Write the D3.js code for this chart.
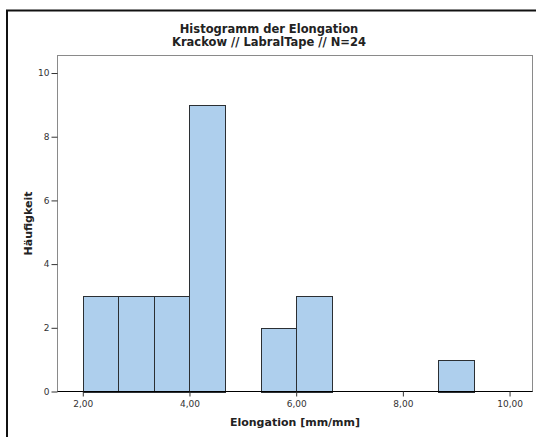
<!DOCTYPE html>
<html>
<head>
<meta charset="utf-8">
<script src="https://cdn.jsdelivr.net/npm/d3@7"></script>
<style>
  body { margin: 0; background: #fff; }
  svg { display: block; }
  text { font-family: "DejaVu Sans", sans-serif; fill: #222; }
  .tick text { font-size: 9px; fill: #333; }
</style>
</head>
<body>
<div id="chart"></div>
<script>
'use strict';

// Histogramm der Elongation (SPSS export)
var titleLines = ['Histogramm der Elongation', 'Krackow // LabralTape // N=24'];
var xLabel = 'Elongation [mm/mm]';
var yLabel = 'Häufigkeit';

var binLower = [2.000, 2.667, 3.333, 4.000, 4.667, 5.333, 6.000, 6.667, 7.333, 8.000, 8.667];
var binWidth = 0.667;
var counts   = [3, 3, 3, 9, 0, 2, 3, 0, 0, 0, 1];

var xTicks = [2, 4, 6, 8, 10];
var yTicks = [0, 2, 4, 6, 8, 10];

var W = 536, H = 437;
var plot = { left: 57.5, top: 55.5, right: 532.5, bottom: 391.5 };

var svg = d3.select('#chart').append('svg')
  .attr('width', W)
  .attr('height', H);

// outer frame (cut at right/bottom like the export)
svg.append('rect')
  .attr('x', 7).attr('y', 10.5)
  .attr('width', 540).attr('height', 450)
  .attr('fill', '#fff')
  .attr('stroke', '#111')
  .attr('stroke-width', 2);

var x = d3.scaleLinear().domain([1.526, 10.43]).range([plot.left, plot.right]);
var y = d3.scaleLinear().domain([0, 10.55]).range([plot.bottom, plot.top]);

// plot box
svg.append('rect')
  .attr('x', plot.left).attr('y', plot.top)
  .attr('width', plot.right - plot.left)
  .attr('height', plot.bottom - plot.top)
  .attr('fill', '#fff')
  .attr('stroke', '#8a8a8a')
  .attr('stroke-width', 1);

// bars
var bins = counts.map(function (c, i) { return { x0: binLower[i], x1: binLower[i] + binWidth, n: c }; })
  .filter(function (d) { return d.n > 0; });

svg.append('g').selectAll('rect')
  .data(bins)
  .enter().append('rect')
  .attr('x', function (d) { return Math.round(x(d.x0)) + 0.5; })
  .attr('y', function (d) { return Math.round(y(d.n)) + 0.5; })
  .attr('width', function (d) { return Math.round(x(d.x1)) - Math.round(x(d.x0)); })
  .attr('height', function (d) { return Math.round(y(0)) - Math.round(y(d.n)); })
  .attr('fill', '#aecfed')
  .attr('stroke', '#2b2f33')
  .attr('stroke-width', 1);

var fmt = function (v) { return v.toFixed(2).replace('.', ','); };

// x axis
var gx = svg.append('g')
  .attr('transform', 'translate(0,' + plot.bottom + ')')
  .call(d3.axisBottom(x).tickValues(xTicks).tickFormat(fmt).tickSize(5).tickPadding(4));
gx.select('.domain').attr('stroke', '#000').attr('d', 'M' + plot.left + ',0H' + plot.right);
gx.selectAll('.tick line').attr('stroke', '#333');

// y axis
var gy = svg.append('g')
  .attr('transform', 'translate(' + plot.left + ',0)')
  .call(d3.axisLeft(y).tickValues(yTicks).tickFormat(d3.format('d')).tickSize(6).tickPadding(2));
gy.select('.domain').remove();
gy.selectAll('.tick line').attr('stroke', '#333');

// title
svg.append('g').selectAll('text')
  .data(titleLines)
  .enter().append('text')
  .attr('x', 269)
  .attr('y', function (d, i) { return 33 + i * 12.5; })
  .attr('text-anchor', 'middle')
  .style('font-size', '11.5px')
  .style('font-weight', 'bold')
  .text(function (d) { return d; });

// axis titles
svg.append('text')
  .attr('x', (plot.left + plot.right) / 2)
  .attr('y', 426)
  .attr('text-anchor', 'middle')
  .style('font-size', '11px')
  .style('font-weight', 'bold')
  .text(xLabel);

svg.append('text')
  .attr('transform', 'translate(32,' + (plot.top + plot.bottom) / 2 + ') rotate(-90)')
  .attr('text-anchor', 'middle')
  .style('font-size', '11px')
  .style('font-weight', 'bold')
  .text(yLabel);
</script>
</body>
</html>
